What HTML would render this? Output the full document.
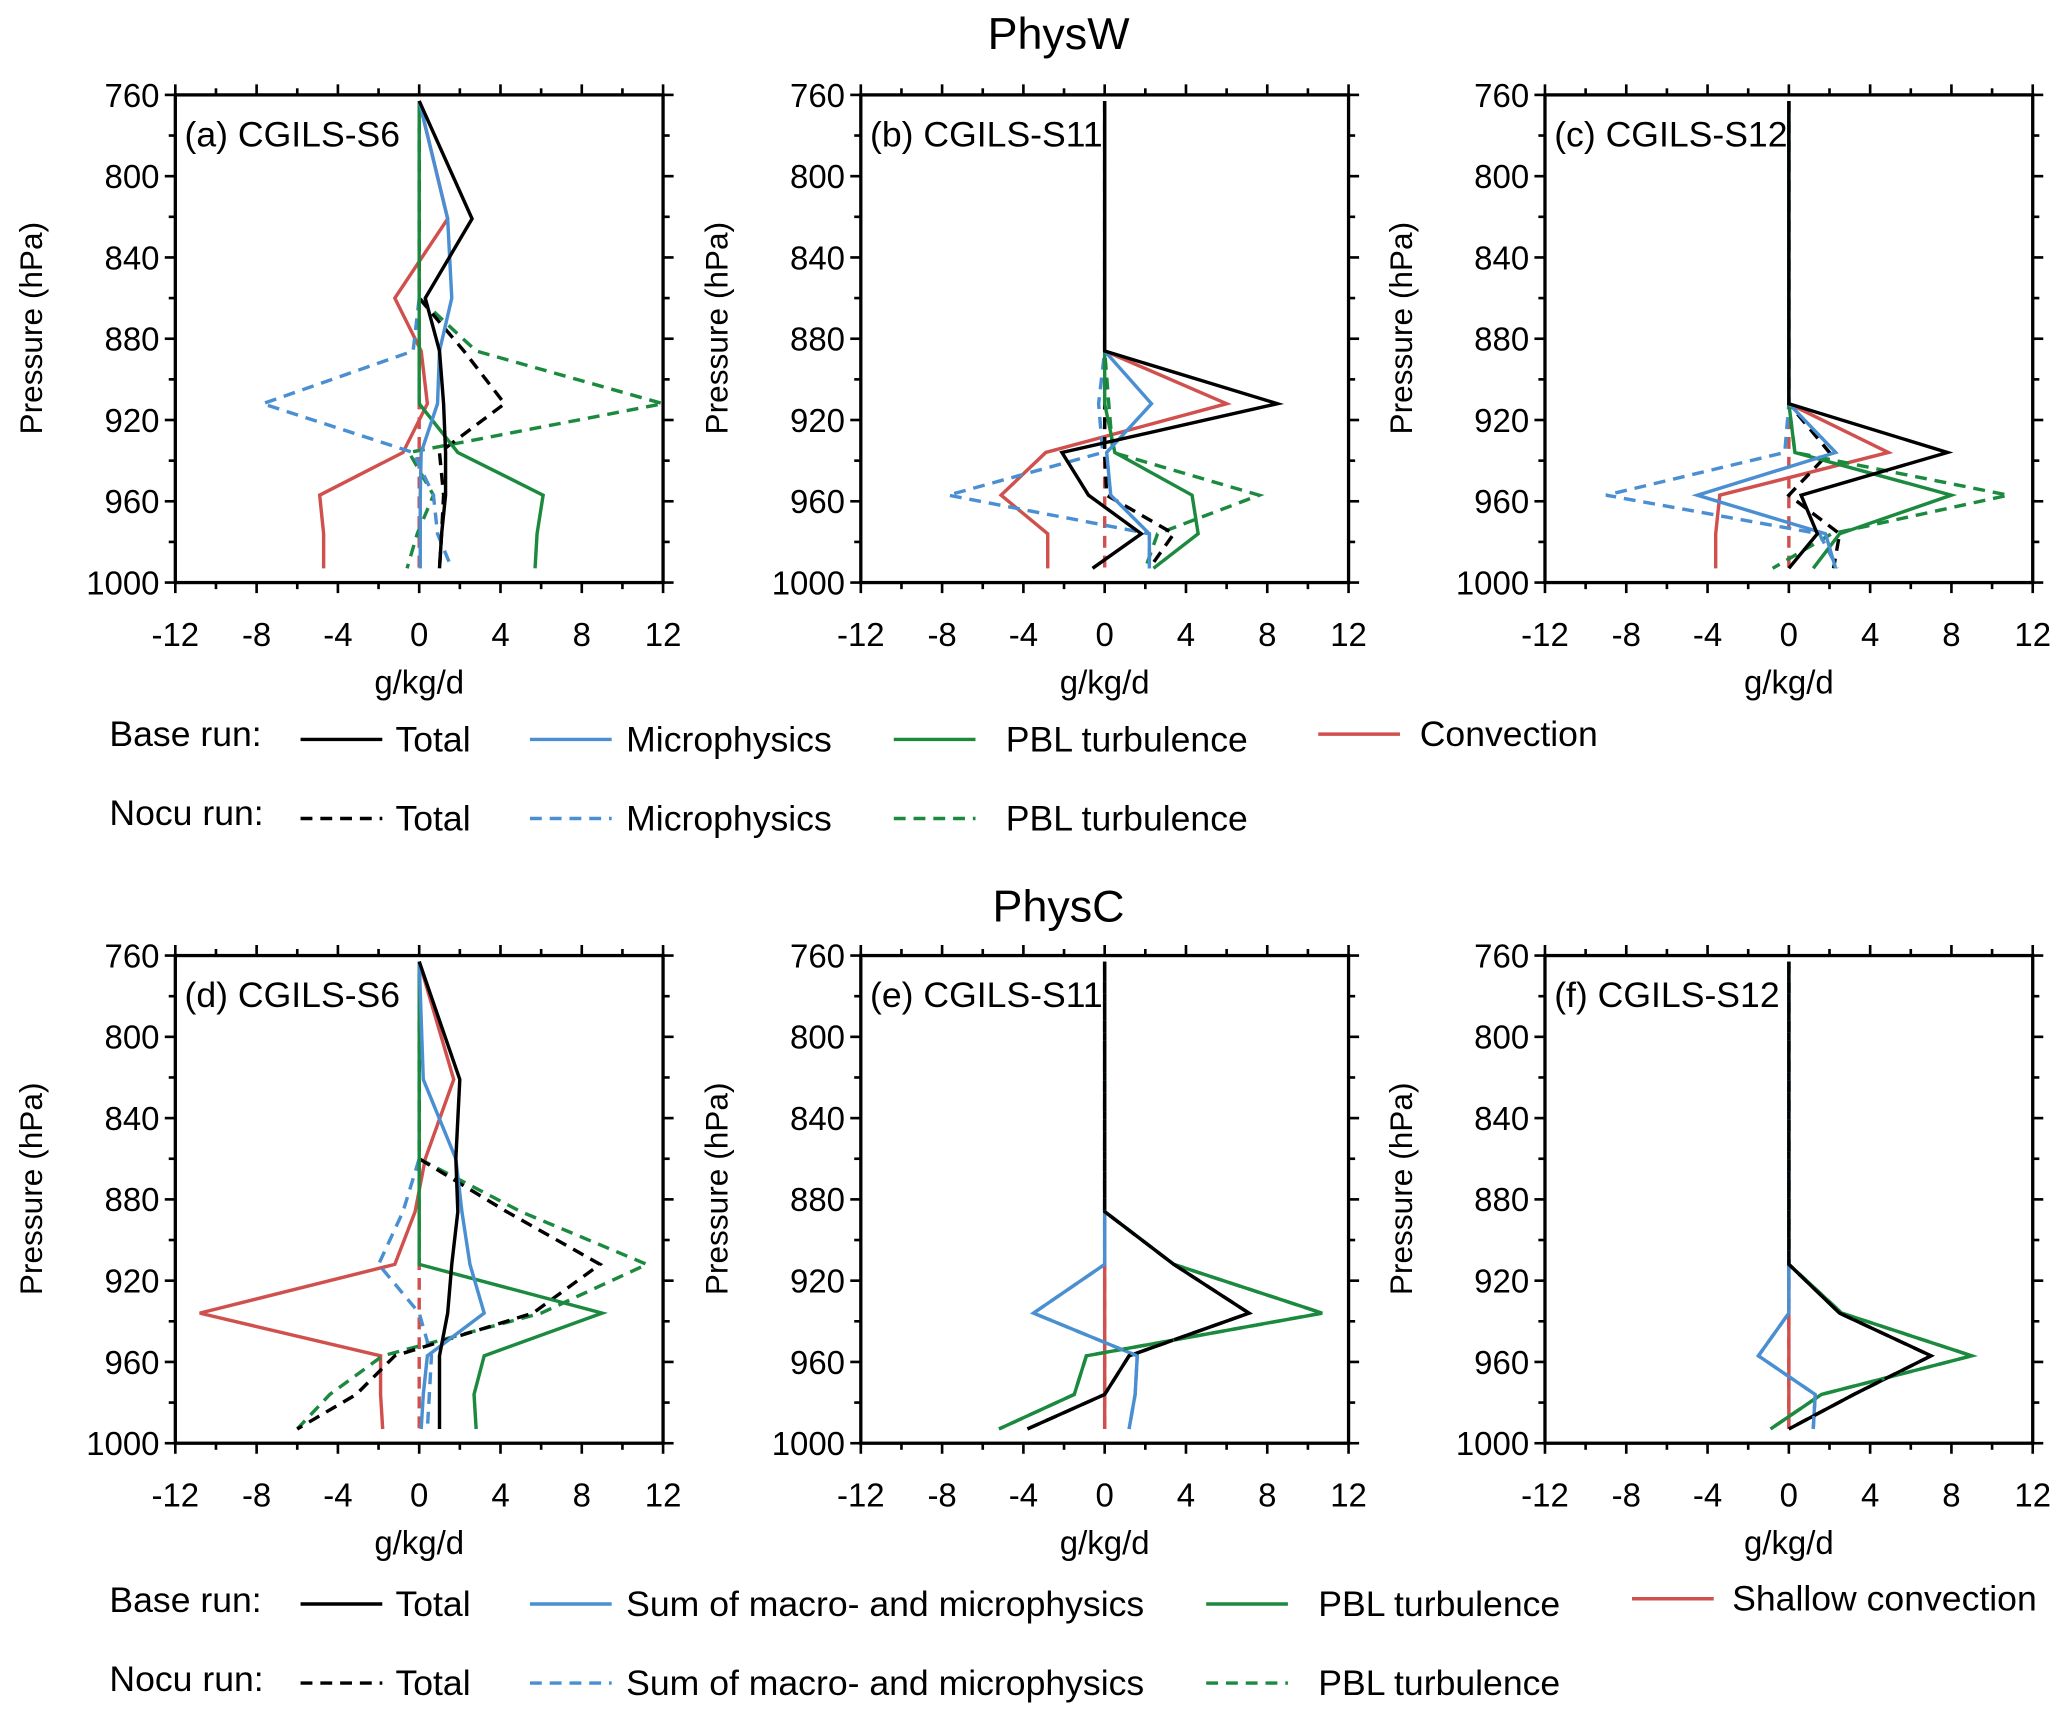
<!DOCTYPE html>
<html><head><meta charset="utf-8"><style>
html,body{margin:0;padding:0;background:#fff}
svg{display:block}
text{font-family:"Liberation Sans",sans-serif;fill:#000}
</style></head><body>
<svg id="fig" width="2067" height="1720" viewBox="0 0 1568 1305" preserveAspectRatio="none" xmlns="http://www.w3.org/2000/svg">
<rect width="1568" height="1305" fill="#fff"/>
<text x="803" y="37" font-size="34" text-anchor="middle">PhysW</text>
<text x="803" y="699" font-size="34" text-anchor="middle">PhysC</text>
<g id="legend1"></g>
<g id="legend2"></g>
</svg>
<script>
const levels = [763, 821, 860, 886, 912, 936, 957, 976, 993];
const xTicks = [-12, -8, -4, 0, 4, 8, 12];
const yTicks = [760, 800, 840, 880, 920, 960, 1000];

// Panel (a)
const aTotal = [0, 2.6, 0.3, 1.0, 1.2, 1.3, 1.3, 1.1, 1.0];
const aMicro = [0, 1.4, 1.6, 1.0, 0.9, 0.1, 0.05, 0.05, 0.05];
const aPbl = [0, 0, 0, 0, 0, 1.9, 6.1, 5.8, 5.7];
const aConv = [0, 1.4, -1.2, 0.1, 0.4, -0.8, -4.9, -4.7, -4.7];
const aTotalN = [0, 0, 0, 2.2, 4.2, 1.0, 1.2, 1.1, 1.0];
const aMicroN = [0, 0, 0, -0.3, -7.7, -0.3, 0.7, 0.9, 1.6];
const aPblN = [0, 0, 0, 2.8, 12, -0.5, 0.7, -0.1, -0.6];
// Panel (b)
const bTotal = [0, 0, 0, 0, 8.5, -2.1, -0.8, 1.8, -0.6];
const bMicro = [0, 0, 0, 0, 2.3, 0.1, 0.3, 2.2, 2.2];
const bPbl = [0, 0, 0, 0, 0, 0.5, 4.3, 4.6, 2.4];
const bConv = [0, 0, 0, 0, 6.0, -2.9, -5.1, -2.8, -2.8];
const bTotalN = [0, 0, 0, 0, 0, 0, 0.1, 3.4, 2.2];
const bMicroN = [0, 0, 0, 0, -0.3, -0.1, -7.7, 2.2, 2.2];
const bPblN = [0, 0, 0, 0, 0.2, 0.4, 7.6, 2.6, 2.0];
// Panel (c)
const cTotal = [0, 0, 0, 0, 0, 7.8, 0.6, 1.4, 0];
const cMicro = [0, 0, 0, 0, 0, 2.3, -4.5, 1.8, 2.3];
const cPbl = [0, 0, 0, 0, 0, 0.3, 8.0, 2.5, 1.2];
const cConv = [0, 0, 0, 0, 0, 4.9, -3.4, -3.6, -3.6];
const cTotalN = [0, 0, 0, 0, 0, 2.0, 0, 2.5, 2.2];
const cMicroN = [0, 0, 0, 0, 0, -0.2, -9.0, 1.5, 2.4];
const cPblN = [0, 0, 0, 0, 0, 0.3, 10.8, 2.1, -0.8];
// Panel (d)
const dTotal = [0, 2.0, 1.8, 1.9, 1.6, 1.4, 1.0, 1.0, 1.0];
const dMicro = [0, 0.2, 1.8, 2.1, 2.5, 3.2, 0.4, 0.2, 0.1];
const dPbl = [0, 0, 0, 0, 0, 9.0, 3.2, 2.7, 2.8];
const dConv = [0, 1.7, 0.3, -0.2, -1.2, -10.8, -1.9, -1.9, -1.8];
const dTotalN = [0, 0, 0, 4.3, 8.9, 5.6, -1.2, -3.1, -6.0];
const dMicroN = [0, 0, 0, -0.8, -2.0, 0, 0.6, 0.5, 0.4];
const dPblN = [0, 0, 0, 5.0, 11.2, 6.0, -1.8, -4.4, -6.0];
// Panel (e)
const eTotal = [0, 0, 0, 0, 3.4, 7.1, 1.2, 0, -3.8];
const eMicro = [0, 0, 0, 0, 0, -3.5, 1.6, 1.5, 1.2];
const ePbl = [0, 0, 0, 0, 3.4, 10.7, -0.9, -1.5, -5.2];
const eConv = [0, 0, 0, 0, 0, 0, 0, 0, 0];
// Panel (f)
const fTotal = [0, 0, 0, 0, 0, 2.5, 7.0, 3.2, 0];
const fMicro = [0, 0, 0, 0, 0, 0, -1.5, 1.3, 1.2];
const fPbl = [0, 0, 0, 0, 0, 2.6, 9.0, 1.6, -0.9];
const fConv = [0, 0, 0, 0, 0, 0, 0, 0, 0];
const zeros = [0, 0, 0, 0, 0, 0, 0, 0, 0];

const C = {k:'#000000', b:'#4a8fd2', g:'#1b8a3e', r:'#d0504e'};
const NS = 'http://www.w3.org/2000/svg';
const svg = document.getElementById('fig');
function mk(tag, attrs, parent){const e=document.createElementNS(NS,tag);for(const k in attrs)e.setAttribute(k,attrs[k]);(parent||svg).appendChild(e);return e;}

const panels = [
 {id:'a',title:'(a) CGILS-S6',x0:133,y0:72,s:[[aConv,'r',0],[zeros,'r',1],[aPblN,'g',1],[aMicroN,'b',1],[aTotalN,'k',1],[aPbl,'g',0],[aMicro,'b',0],[aTotal,'k',0]]},
 {id:'b',title:'(b) CGILS-S11',x0:653,y0:72,s:[[bConv,'r',0],[zeros,'r',1],[bPblN,'g',1],[bMicroN,'b',1],[bTotalN,'k',1],[bPbl,'g',0],[bMicro,'b',0],[bTotal,'k',0]]},
 {id:'c',title:'(c) CGILS-S12',x0:1172,y0:72,s:[[cConv,'r',0],[zeros,'r',1],[cPblN,'g',1],[cMicroN,'b',1],[cTotalN,'k',1],[cPbl,'g',0],[cMicro,'b',0],[cTotal,'k',0]]},
 {id:'d',title:'(d) CGILS-S6',x0:133,y0:725,s:[[dConv,'r',0],[zeros,'r',1],[dPblN,'g',1],[dMicroN,'b',1],[dTotalN,'k',1],[dPbl,'g',0],[dMicro,'b',0],[dTotal,'k',0]]},
 {id:'e',title:'(e) CGILS-S11',x0:653,y0:725,s:[[eConv,'r',0],[eConv,'r',1],[ePbl,'g',0],[eMicro,'b',0],[eTotal,'k',0],[ePbl,'g',1],[eMicro,'b',1],[eTotal,'k',1]]},
 {id:'f',title:'(f) CGILS-S12',x0:1172,y0:725,s:[[fConv,'r',0],[fConv,'r',1],[fPbl,'g',0],[fMicro,'b',0],[fTotal,'k',0],[fPbl,'g',1],[fMicro,'b',1],[fTotal,'k',1]]}
];
const W=370,H=370;
const names={k:'total',b:'microphysics',g:'pbl-turbulence',r:'convection'};
panels.forEach(p=>{
  const g=mk('g',{});
  
  
  const xs=v=>p.x0+(v+12)/24*W;
  const ys=v=>p.y0+(v-760)/240*H;
  const clip=mk('clipPath',{id:'cl'+p.id},g);
  mk('rect',{x:p.x0,y:p.y0,width:W,height:H},clip);
  const sg=mk('g',{'clip-path':'url(#cl'+p.id+')'},g);
  p.s.forEach(([arr,c,dash])=>{
    const pts=arr.map((v,i)=>xs(v).toFixed(1)+','+ys(levels[i]).toFixed(1)).join(' ');
    const pl=mk('polyline',{points:pts,fill:'none',stroke:C[c],'stroke-width':2.6,'stroke-linejoin':'miter'},sg);
    if(dash)pl.setAttribute('stroke-dasharray','9 6');
    
    
  });
  const fr=mk('rect',{x:p.x0,y:p.y0,width:W,height:H,fill:'none',stroke:'#000','stroke-width':2.5},g);
  
  
  for(let v=-12;v<=12;v+=2){const x=xs(v),L=(v%4===0)?8:5;
    mk('line',{x1:x,y1:p.y0,x2:x,y2:p.y0-L,stroke:'#000','stroke-width':2},g);
    mk('line',{x1:x,y1:p.y0+H,x2:x,y2:p.y0+H+L,stroke:'#000','stroke-width':2},g);}
  for(let v=760;v<=1000;v+=20){const y=ys(v),L=(v%40===0)?8:5;
    mk('line',{x1:p.x0,y1:y,x2:p.x0-L,y2:y,stroke:'#000','stroke-width':2},g);
    mk('line',{x1:p.x0+W,y1:y,x2:p.x0+W+L,y2:y,stroke:'#000','stroke-width':2},g);}
  xTicks.forEach(v=>{const t=mk('text',{x:xs(v),y:p.y0+H+48,'font-size':25,'text-anchor':'middle'},g);t.textContent=String(v);
    });
  yTicks.forEach(v=>{const t=mk('text',{x:p.x0-12,y:ys(v)+9,'font-size':25,'text-anchor':'end'},g);t.textContent=String(v);
    });
  const xt=mk('text',{x:p.x0+W/2,y:p.y0+H+84,'font-size':25,'text-anchor':'middle'},g);xt.textContent='g/kg/d';
  
  const yt=mk('text',{x:0,y:0,'font-size':24,'text-anchor':'middle',transform:'translate('+(p.x0-101)+','+(p.y0+H/2-8)+') rotate(-90)'},g);yt.textContent='Pressure (hPa)';
  
  const pt=mk('text',{x:p.x0+7,y:p.y0+39,'font-size':27},g);pt.textContent=p.title;
  
});

function legend(gid,y0,items){
  const g=document.getElementById(gid);
  items.forEach(it=>{
    if(it.t){const t=mk('text',{x:it.x,y:it.y+9,'font-size':27},g);t.textContent=it.t;
      }
    if(it.c){const l=mk('line',{x1:it.x,y1:it.y,x2:it.x+62,y2:it.y,stroke:C[it.c],'stroke-width':2.6},g);
      if(it.d)l.setAttribute('stroke-dasharray','9 6');
      }
  });
}
legend('legend1',0,[
 {t:'Base run:',x:83,y:557},{c:'k',x:228,y:561},{t:'Total',x:300,y:561},
 {c:'b',x:402,y:561},{t:'Microphysics',x:475,y:561},
 {c:'g',x:678,y:561},{t:'PBL turbulence',x:763,y:561},
 {c:'r',x:1000,y:557},{t:'Convection',x:1077,y:557},
 {t:'Nocu run:',x:83,y:617},{c:'k',d:1,x:228,y:621},{t:'Total',x:300,y:621},
 {c:'b',d:1,x:402,y:621},{t:'Microphysics',x:475,y:621},
 {c:'g',d:1,x:678,y:621},{t:'PBL turbulence',x:763,y:621}
]);
legend('legend2',0,[
 {t:'Base run:',x:83,y:1214},{c:'k',x:228,y:1217},{t:'Total',x:300,y:1217},
 {c:'b',x:402,y:1217},{t:'Sum of macro- and microphysics',x:475,y:1217},
 {c:'g',x:915,y:1217},{t:'PBL turbulence',x:1000,y:1217},
 {c:'r',x:1238,y:1213},{t:'Shallow convection',x:1314,y:1213},
 {t:'Nocu run:',x:83,y:1274},{c:'k',d:1,x:228,y:1277},{t:'Total',x:300,y:1277},
 {c:'b',d:1,x:402,y:1277},{t:'Sum of macro- and microphysics',x:475,y:1277},
 {c:'g',d:1,x:915,y:1277},{t:'PBL turbulence',x:1000,y:1277}
]);
</script>
</body></html>
